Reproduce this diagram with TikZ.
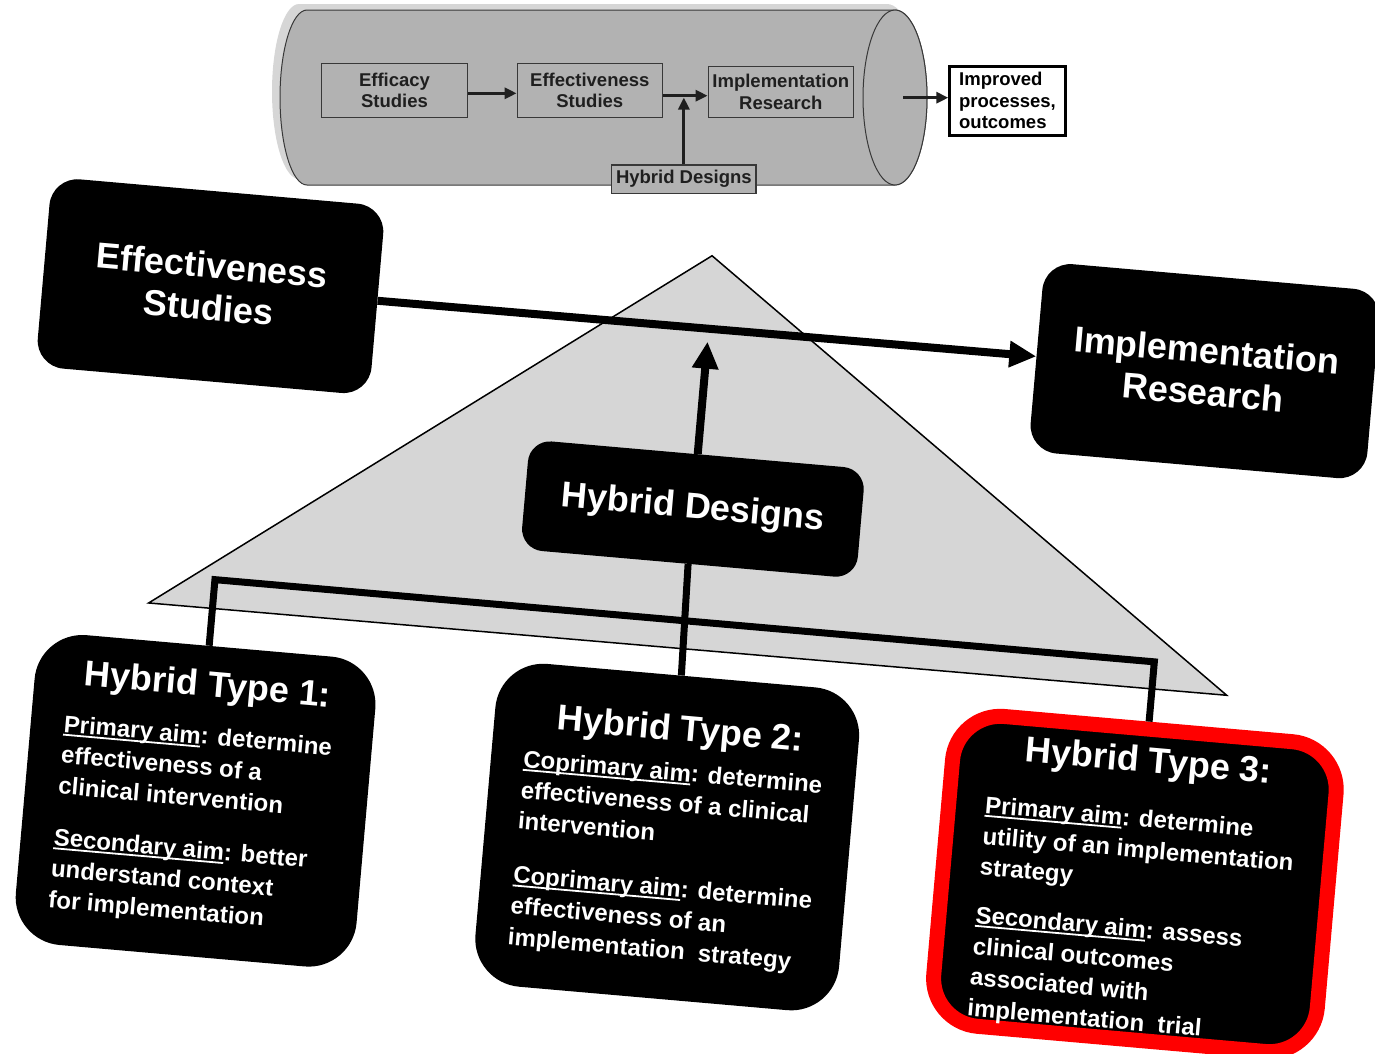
\documentclass[tikz,border=0pt]{standalone}
\usepackage{fontspec}
\setmainfont{Liberation Sans}
\usetikzlibrary{arrows.meta}
\definecolor{tubegray}{gray}{0.70}
\definecolor{tubeshade}{gray}{0.84}
\definecolor{tubeline}{gray}{0.22}
\definecolor{trifill}{gray}{0.84}
\definecolor{tubetext}{gray}{0.12}
% underlined aim label
\newcommand\aimul[1]{\leavevmode\setbox0\hbox{#1}\rlap{\rule[-3.5pt]{\wd0}{1.8pt}}\box0}
% left-aligned text block whose baseline is its first line
\newcommand\aimlines[1]{\vtop{\hsize=400pt\parindent=0pt\parskip=0pt\baselineskip=31pt\raggedright\leavevmode #1\par}}

\begin{document}
\begin{tikzpicture}[x=1pt, y=-1pt,
  tubebox/.style={draw=tubeline, line width=1.4pt, fill=tubegray, inner sep=0pt,
    text=tubetext, align=center, font=\fontsize{18.5}{21.7}\selectfont\bfseries},
  tubearrow/.style={line width=3.2pt, draw=tubetext, -{Triangle[length=12pt,width=11pt]}},
  bigbox/.style={fill=black, rounded corners=28pt, inner sep=0pt, text=white, align=center,
    font=\fontsize{36}{42}\selectfont\bfseries, transform shape},
  typebox/.style={fill=black, rounded corners=48pt, inner sep=0pt, transform shape},
  typetitle/.style={anchor=base, inner sep=0pt, text=white,
    font=\fontsize{36}{40}\selectfont\bfseries, transform shape},
  typebody/.style={anchor=base west, inner sep=0pt, text=white,
    font=\fontsize{24}{31}\selectfont\bfseries, transform shape},
  bigarrow/.style={line width=8pt, -{Triangle[length=27pt,width=25pt]}},
  bracket/.style={line width=7pt, line join=miter}
]
\useasboundingbox (0,0) rectangle (1375,1053);

% ---------- pipeline tube ----------
\fill[tubeshade, shift={(-8,-6)}] (307,10) -- (895,10)
  .. controls (912.7,10) and (927,49.2) .. (927,97.5)
  .. controls (927,145.8) and (912.7,185) .. (895,185) -- (307,185)
  .. controls (292.1,185) and (280,145.8) .. (280,97.5)
  .. controls (280,49.2) and (292.1,10) .. cycle;
\draw[fill=tubegray, draw=tubeline, line width=1pt] (307,10) -- (895,10)
  .. controls (912.7,10) and (927,49.2) .. (927,97.5)
  .. controls (927,145.8) and (912.7,185) .. (895,185) -- (307,185)
  .. controls (292.1,185) and (280,145.8) .. (280,97.5)
  .. controls (280,49.2) and (292.1,10) .. cycle;
\draw[fill=tubegray, draw=tubeline, line width=1pt] (895,97.5) ellipse [x radius=32, y radius=87.5];

\node[tubebox, minimum width=145.6pt, minimum height=54pt] (eff0) at (394.5,90.3) {Efficacy\\Studies};
\node[tubebox, minimum width=145pt, minimum height=54pt] (eff1) at (589.8,90.3) {Effectiveness\\Studies};
\node[tubebox, minimum width=145pt, minimum height=50.6pt] (imp0) at (780.8,92) {Implementation\\Research};
\node[tubebox, minimum width=144.3pt, minimum height=28.3pt] (hyb0) at (683.85,179.2) {Hybrid Designs};
\node[draw=black, line width=3pt, fill=white, inner sep=0pt, align=left,
  minimum width=115.4pt, minimum height=68.7pt,
  font=\fontsize{18.5}{21.5}\selectfont\bfseries] (outc) at (1007.5,100.8) {Improved\\processes,\\outcomes};

\coordinate (joinpt) at (683.85,97.5);
\coordinate (tubeout) at (903,97.7);
\draw[tubearrow] ([yshift=-3pt]eff0.east) -- ([yshift=-3pt]eff1.west);
\draw[tubearrow] ([yshift=-5.4pt]eff1.east) -- ([yshift=-3.7pt]imp0.west);
\draw[tubearrow] (hyb0.north) -- (joinpt);
\draw[tubearrow] (tubeout) -- (tubeout -| outc.west);

% ---------- hybrid design continuum ----------
\begin{scope}[shift={(700,600)}, rotate=-5]
  \draw[fill=trifill, line width=1.5pt, line join=miter] (-18,-344) -- (-549,51) -- (533,49) -- cycle;

  \node[bigbox, minimum width=335pt, minimum height=190pt] (effB) at (-515,-270) {Effectiveness\\Studies};
  \node[bigbox, minimum width=338pt, minimum height=190pt] (implB) at (483,-272) {Implementation\\Research};
  \node[bigbox, minimum width=337pt, minimum height=110pt, rounded corners=22pt] (hybB) at (-15,-90) {Hybrid Designs};

  \node[typebox, minimum width=342pt, minimum height=311pt] (t1) at (-485,244) {};
  \node[typebox, minimum width=365pt, minimum height=324pt] (t2) at (-12,239) {};
  \node[typebox, draw=red, line width=15pt, minimum width=385pt, minimum height=311pt] (t3) at (458,245) {};

  \node[typetitle] (t1h) at (-483,139) {Hybrid Type 1:};
  \node[typetitle] (t2h) at (-8,142) {Hybrid Type 2:};
  \node[typetitle] (t3h) at (461,133) {Hybrid Type 3:};

  \node[typebody] (t1b) at (-623,187) {\aimlines{\aimul{Primary aim}: determine\\effectiveness of a\\clinical intervention\\[21pt]\aimul{Secondary aim}: better\\understand context\\for implementation}};
  \node[typebody] (t2b) at (-162,182) {\aimlines{\aimul{Coprimary aim}: determine\\effectiveness of a clinical\\intervention\\[23pt]\aimul{Coprimary aim}: determine\\effectiveness of an\\implementation\ \ strategy}};
  \node[typebody] (t3b) at (302,187.5) {\aimlines{\aimul{Primary aim}: determine\\utility of an implementation\\strategy\\[17.5pt]\aimul{Secondary aim}: assess\\clinical outcomes\\associated with\\implementation\ \ trial}};

  \coordinate (hybtip) at (-15,-258);
  \coordinate (barL) at (-485,22);
  \coordinate (barR) at (458,22);
  \draw[bigarrow] (effB.east) -- (implB.west);
  \draw[bigarrow] (hybB.north) -- (hybtip);
  \draw[bracket] (t1.north) -- (barL) -- (barR) -- (t3.north);
  \draw[bracket] (hybB.south) -- (t2.north);
\end{scope}
\end{tikzpicture}
\end{document}
